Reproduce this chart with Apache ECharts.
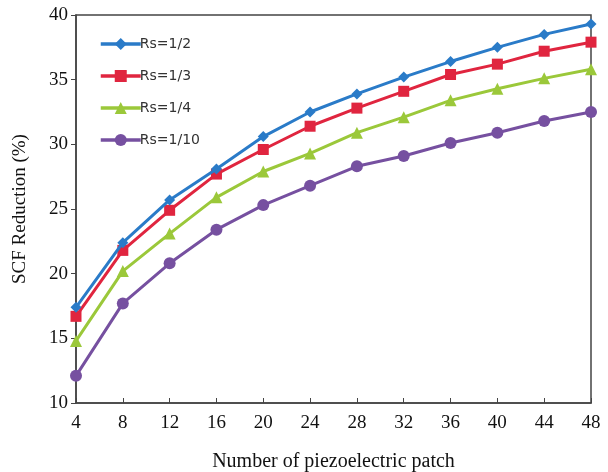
<!DOCTYPE html>
<html><head><meta charset="utf-8">
<script src="https://cdn.jsdelivr.net/npm/echarts@6/dist/echarts.min.js"></script>
<style>html,body{margin:0;padding:0;background:#fff}#c{width:608px;height:472px}</style>
</head><body><div id="c"></div>
<script>
const patches = [4, 8, 12, 16, 20, 24, 28, 32, 36, 40, 44, 48];
const seriesNames = ['Rs=1/2', 'Rs=1/3', 'Rs=1/4', 'Rs=1/10'];
const rsHalf = [17.4, 22.4, 25.7, 28.1, 30.6, 32.5, 33.9, 35.2, 36.4, 37.5, 38.5, 39.3];
const rsThird = [16.7, 21.8, 24.9, 27.7, 29.6, 31.4, 32.8, 34.1, 35.4, 36.2, 37.2, 37.9];
const rsQuarter = [14.8, 20.2, 23.1, 25.9, 27.9, 29.3, 30.9, 32.1, 33.4, 34.3, 35.1, 35.8];
const rsTenth = [12.1, 17.7, 20.8, 23.4, 25.3, 26.8, 28.3, 29.1, 30.1, 30.9, 31.8, 32.5];

const allData = [rsHalf, rsThird, rsQuarter, rsTenth];
const colors = ['#2a7bc8', '#e0253f', '#9bc83a', '#7650a0'];
const symbols = ['diamond', 'rect', 'triangle', 'circle'];
const sizes = [11, 11, 12, 12];

const chart = echarts.init(document.getElementById('c'), null, {renderer: 'canvas'});
chart.setOption({
  animation: false,
  backgroundColor: '#fff',
  grid: {left: 76, right: 17, top: 15, bottom: 69, outerBoundsMode: 'none', containLabel: false,
         show: true, borderColor: '#444', borderWidth: 1.5, backgroundColor: 'transparent'},
  legend: {
    orient: 'vertical', left: 94, top: 32, itemGap: 18, itemWidth: 40, itemHeight: 15,
    lineStyle: {width: 3.5},
    textStyle: {fontFamily: 'DejaVu Sans', fontSize: 14, color: '#333', padding: [0, 0, 0, -6]},
    data: seriesNames
  },
  xAxis: {
    type: 'value', min: 4, max: 48, interval: 4,
    name: 'Number of piezoelectric patch', nameLocation: 'middle', nameGap: 49,
    nameTextStyle: {fontFamily: 'Liberation Serif', fontSize: 20, color: '#111'},
    axisLine: {lineStyle: {color: '#444', width: 1.5}},
    axisTick: {inside: true, length: 5, lineStyle: {color: '#444'}},
    axisLabel: {fontFamily: 'Liberation Serif', fontSize: 19, color: '#111', margin: 11},
    splitLine: {show: false}
  },
  yAxis: {
    type: 'value', min: 10, max: 40, interval: 5,
    name: 'SCF Reduction (%)', nameLocation: 'middle', nameGap: 46, nameRotate: 90,
    nameTextStyle: {fontFamily: 'Liberation Serif', fontSize: 19, color: '#111'},
    axisLine: {show: true, lineStyle: {color: '#444', width: 1.5}},
    axisTick: {show: true, length: 5, lineStyle: {color: '#444'}},
    axisLabel: {fontFamily: 'Liberation Serif', fontSize: 19, color: '#111', margin: 8},
    splitLine: {show: false}
  },
  series: seriesNames.map((n, i) => ({
    name: n, type: 'line',
    data: patches.map((p, j) => [p, allData[i][j]]),
    symbol: symbols[i], symbolSize: sizes[i],
    itemStyle: {color: colors[i]},
    lineStyle: {color: colors[i], width: 3},
    z: 10 - i
  }))
});
</script></body></html>
